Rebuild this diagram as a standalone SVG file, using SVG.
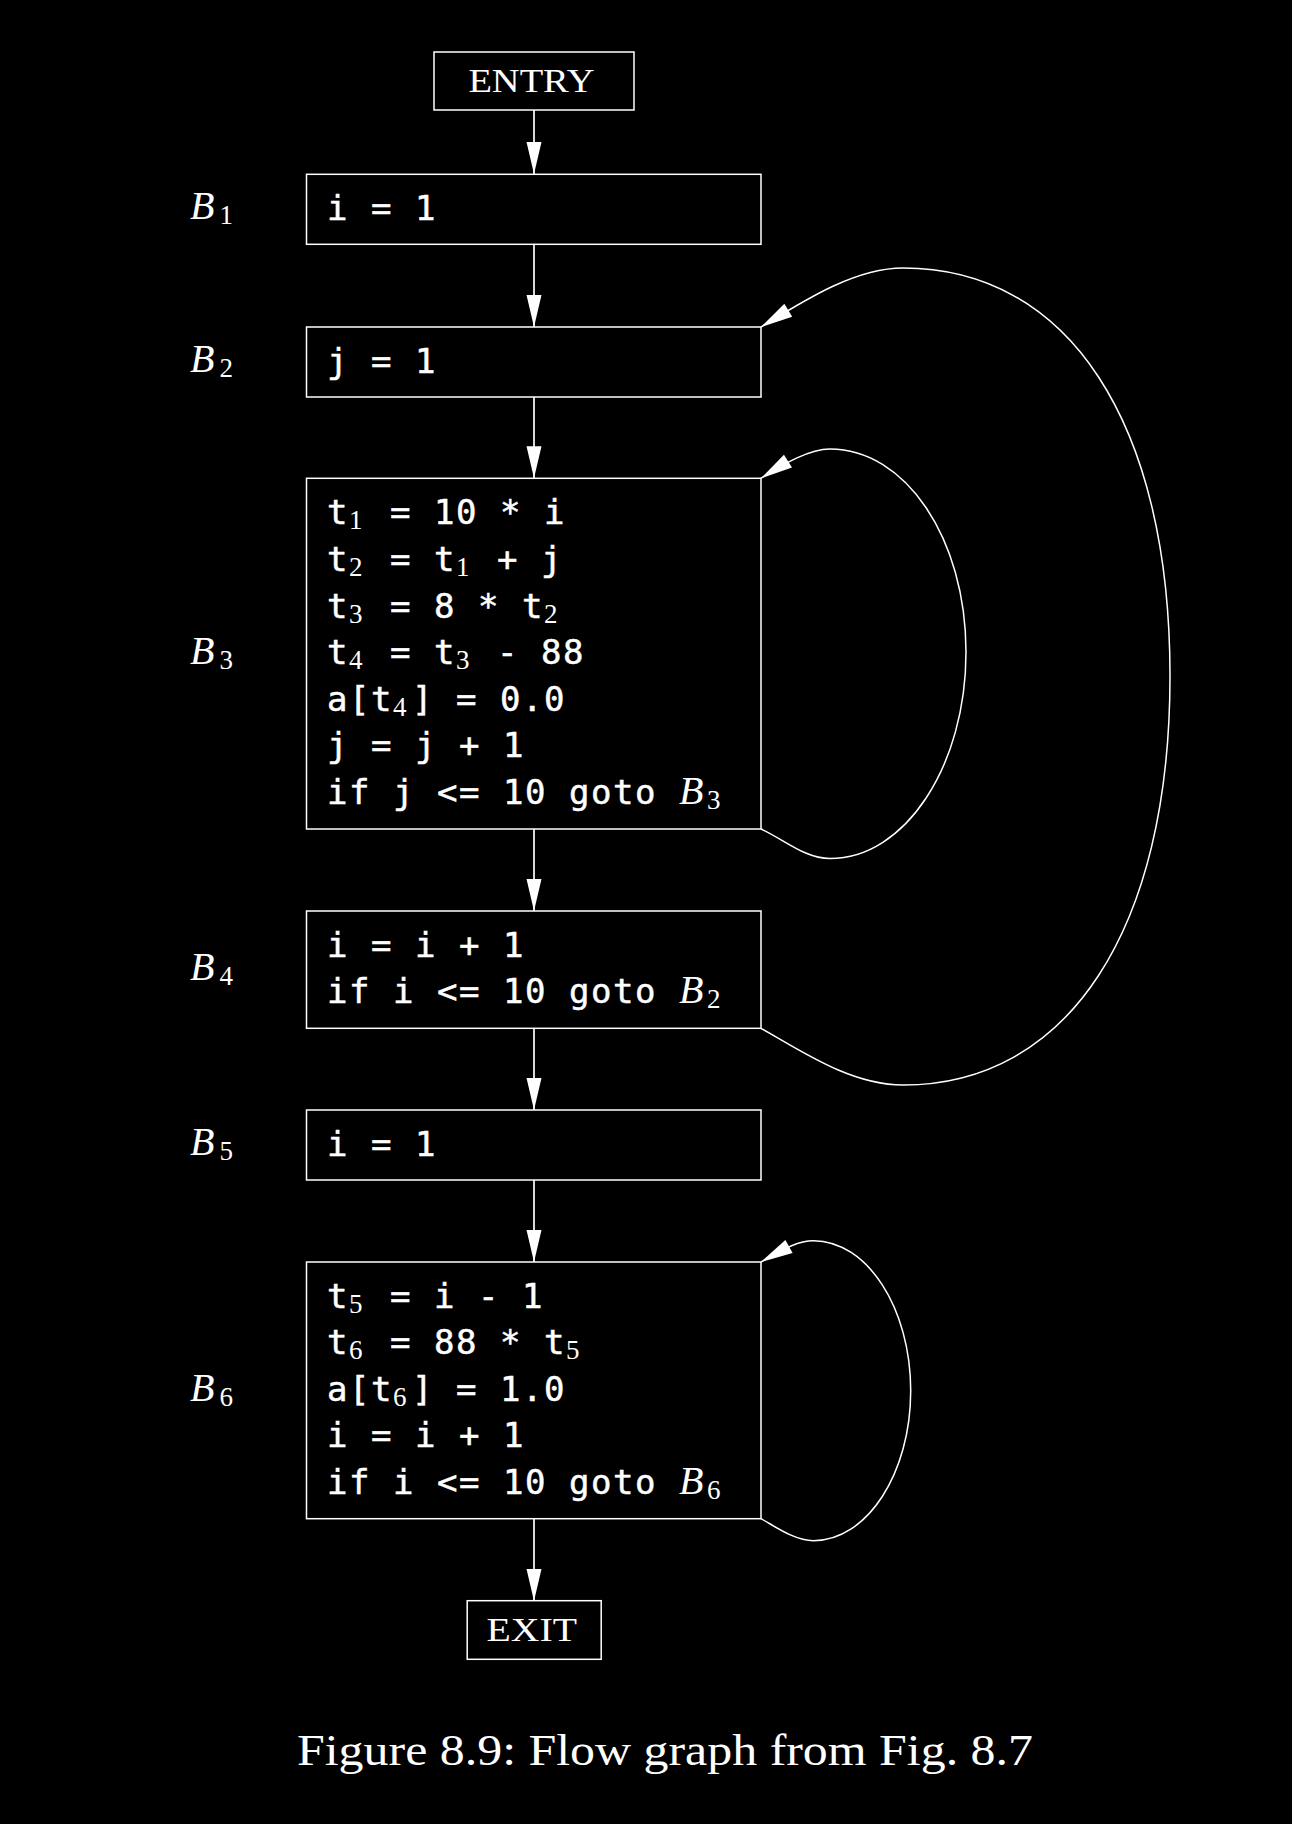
<svg xmlns="http://www.w3.org/2000/svg" width="1292" height="1824" viewBox="0 0 1292 1824">
<style>
  .box { fill: #000; stroke: #fff; stroke-width: 1.5; }
  .edge { fill: none; stroke: #fff; stroke-width: 1.7; }
  .loop { fill: none; stroke: #fff; stroke-width: 1.5; }
  .code { font-family: "DejaVu Sans Mono", "Liberation Mono", monospace; font-size: 34px; letter-spacing: 1.53px; fill: #fff; stroke: #fff; stroke-width: 0.5px; }
  .sub { font-family: "Liberation Serif", serif; font-size: 27px; letter-spacing: 0; font-style: normal; fill: #fff; stroke: none; }
  .bl { font-family: "Liberation Serif", serif; font-style: italic; font-size: 40px; letter-spacing: 0; fill: #fff; stroke: none; }
  .rm { font-family: "Liberation Serif", serif; font-size: 33px; fill: #fff; }
  .cap { font-family: "Liberation Serif", serif; font-size: 45px; fill: #fff; }
</style>
<defs>
  <marker id="ah" markerUnits="userSpaceOnUse" markerWidth="32" markerHeight="15" viewBox="0 0 32 15" refX="32" refY="7.5" orient="auto" overflow="visible">
    <path d="M0,0 L32,7.5 L0,15 Z" fill="#fff"/>
  </marker>
</defs>
<rect x="0" y="0" width="1292" height="1824" fill="#000"/>

<g id="connectors">
  <line class="edge" x1="534" y1="110" x2="534" y2="174" marker-end="url(#ah)"/>
  <line class="edge" x1="534" y1="244.5" x2="534" y2="327" marker-end="url(#ah)"/>
  <line class="edge" x1="534" y1="397" x2="534" y2="478.3" marker-end="url(#ah)"/>
  <line class="edge" x1="534" y1="829" x2="534" y2="911" marker-end="url(#ah)"/>
  <line class="edge" x1="534" y1="1028.3" x2="534" y2="1110" marker-end="url(#ah)"/>
  <line class="edge" x1="534" y1="1180" x2="534" y2="1262" marker-end="url(#ah)"/>
  <line class="edge" x1="534" y1="1518.7" x2="534" y2="1601" marker-end="url(#ah)"/>
  <path class="loop" d="M761,829 C785,840 805,858.5 830,858.5 C905,858.5 966,766 966,652 C966,538 905,449 830,449 C810,449 785,463 761,478.3" marker-end="url(#ah)"/>
  <path class="loop" d="M761,1028.3 C800,1050 850,1085 903,1085 C1068,1085 1170,930 1170,676 C1170,422 1068,268 903,268 C855,268 805,300 761,327" marker-end="url(#ah)"/>
  <path class="loop" d="M761,1518.7 C776,1527 795,1540.7 813.3,1540.7 C867,1540.7 910.7,1473.5 910.7,1390.7 C910.7,1307.9 867,1240.7 813.3,1240.7 C796,1240.7 780,1251.5 761,1262" marker-end="url(#ah)"/>
</g>

<g id="entry">
  <rect class="box" x="434" y="52" width="200" height="58"/>
  <text class="rm" x="468.4" y="91.7" textLength="126" lengthAdjust="spacingAndGlyphs">ENTRY</text>
</g>

<g id="b1">
  <text class="bl" x="190" y="219">B<tspan class="sub" x="219.5" y="224">1</tspan></text>
  <rect class="box" x="306.5" y="174.3" width="454.5" height="70"/>
  <text class="code" x="327" y="219.8">i = 1</text>
</g>

<g id="b2">
  <text class="bl" x="190" y="371.5">B<tspan class="sub" x="219.5" y="376.5">2</tspan></text>
  <rect class="box" x="306.5" y="327" width="454.5" height="70"/>
  <text class="code" x="327" y="372.5">j = 1</text>
</g>

<g id="b3">
  <text class="bl" x="190" y="663.5">B<tspan class="sub" x="219.5" y="668.5">3</tspan></text>
  <rect class="box" x="306.5" y="478.3" width="454.5" height="350.7"/>
  <text class="code" y="524.3"><tspan x="327">t</tspan><tspan class="sub" x="349" y="529.3">1</tspan><tspan x="390" y="524.3">= 10 * i</tspan></text>
  <text class="code" y="570.9"><tspan x="327">t</tspan><tspan class="sub" x="349" y="575.9">2</tspan><tspan x="390" y="570.9">= t</tspan><tspan class="sub" x="456" y="575.9">1</tspan><tspan x="497" y="570.9">+ j</tspan></text>
  <text class="code" y="617.5"><tspan x="327">t</tspan><tspan class="sub" x="349" y="622.5">3</tspan><tspan x="390" y="617.5">= 8 * t</tspan><tspan class="sub" x="544" y="622.5">2</tspan></text>
  <text class="code" y="664.1"><tspan x="327">t</tspan><tspan class="sub" x="349" y="669.1">4</tspan><tspan x="390" y="664.1">= t</tspan><tspan class="sub" x="456" y="669.1">3</tspan><tspan x="497" y="664.1">- 88</tspan></text>
  <text class="code" y="710.7"><tspan x="327">a[t</tspan><tspan class="sub" x="393" y="715.7">4</tspan><tspan x="412" y="710.7">] = 0.0</tspan></text>
  <text class="code" x="327" y="757.3">j = j + 1</text>
  <text class="code" y="803.9"><tspan x="327">if j &lt;= 10 goto</tspan><tspan class="bl" x="679" y="803.9">B</tspan><tspan class="sub" x="707" y="808.9">3</tspan></text>
</g>

<g id="b4">
  <text class="bl" x="190" y="979.5">B<tspan class="sub" x="219.5" y="984.5">4</tspan></text>
  <rect class="box" x="306.5" y="911" width="454.5" height="117.3"/>
  <text class="code" x="327" y="956.5">i = i + 1</text>
  <text class="code" y="1003.1"><tspan x="327">if i &lt;= 10 goto</tspan><tspan class="bl" x="679" y="1003.1">B</tspan><tspan class="sub" x="707" y="1008.1">2</tspan></text>
</g>

<g id="b5">
  <text class="bl" x="190" y="1154.5">B<tspan class="sub" x="219.5" y="1159.5">5</tspan></text>
  <rect class="box" x="306.5" y="1110" width="454.5" height="70"/>
  <text class="code" x="327" y="1155.5">i = 1</text>
</g>

<g id="b6">
  <text class="bl" x="190" y="1400.5">B<tspan class="sub" x="219.5" y="1405.5">6</tspan></text>
  <rect class="box" x="306.5" y="1262" width="454.5" height="256.7"/>
  <text class="code" y="1307.5"><tspan x="327">t</tspan><tspan class="sub" x="349" y="1312.5">5</tspan><tspan x="390" y="1307.5">= i - 1</tspan></text>
  <text class="code" y="1354.1"><tspan x="327">t</tspan><tspan class="sub" x="349" y="1359.1">6</tspan><tspan x="390" y="1354.1">= 88 * t</tspan><tspan class="sub" x="566" y="1359.1">5</tspan></text>
  <text class="code" y="1400.7"><tspan x="327">a[t</tspan><tspan class="sub" x="393" y="1405.7">6</tspan><tspan x="412" y="1400.7">] = 1.0</tspan></text>
  <text class="code" x="327" y="1447.3">i = i + 1</text>
  <text class="code" y="1493.9"><tspan x="327">if i &lt;= 10 goto</tspan><tspan class="bl" x="679" y="1493.9">B</tspan><tspan class="sub" x="707" y="1498.9">6</tspan></text>
</g>

<g id="exit">
  <rect class="box" x="467.2" y="1600.7" width="134" height="58.6"/>
  <text class="rm" x="486.6" y="1640.7" textLength="90.4" lengthAdjust="spacingAndGlyphs">EXIT</text>
</g>

<text class="cap" x="297" y="1765" textLength="736" lengthAdjust="spacingAndGlyphs">Figure 8.9: Flow graph from Fig. 8.7</text>
</svg>
